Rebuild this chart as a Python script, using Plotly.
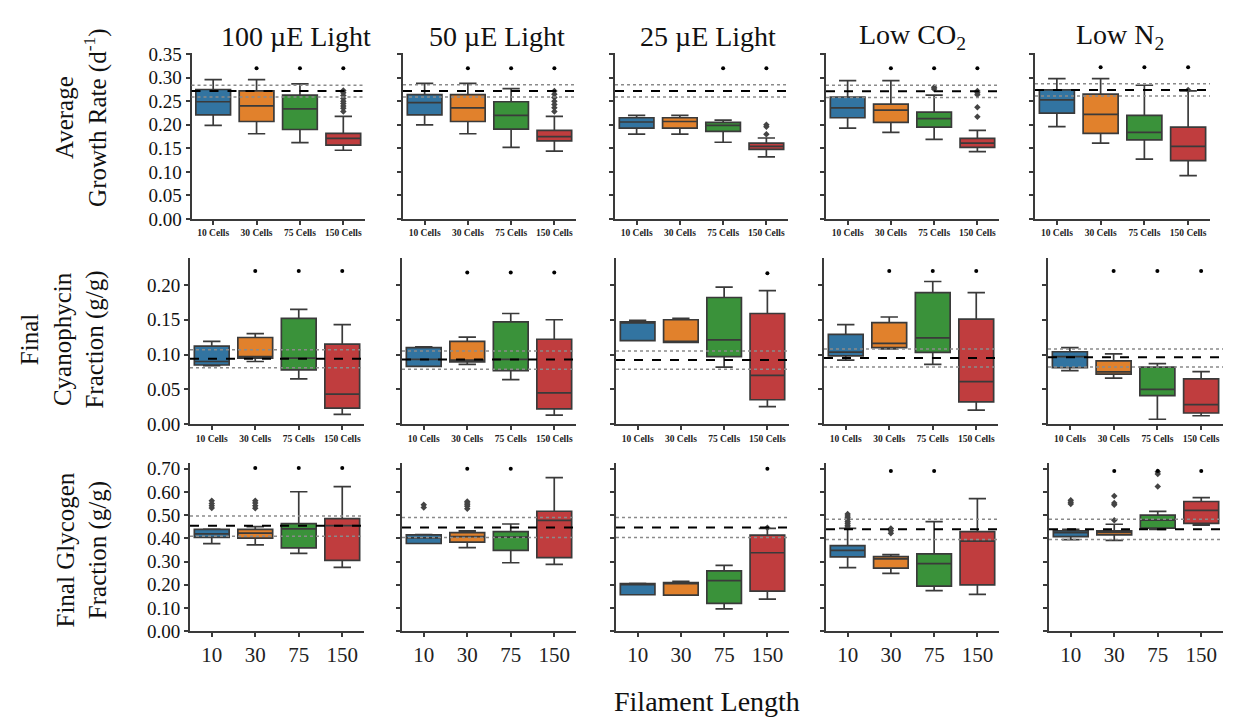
import plotly.graph_objects as go

# ---------------- data ----------------
conditions = ["100 µE Light", "50 µE Light", "25 µE Light", "Low CO<sub>2</sub>", "Low N<sub>2</sub>"]
lengths = ["10", "30", "75", "150"]
cell_labels = ["10 Cells", "30 Cells", "75 Cells", "150 Cells"]
row_titles = ["Average<br>Growth Rate (d<sup>-1</sup>)",
              "Final<br>Cyanophycin<br>Fraction (g/g)",
              "Final Glycogen<br>Fraction (g/g)"]

# Row 1: average growth rate (per condition, per filament length)
growth_low = [[0.199, 0.181, 0.162, 0.146], [0.200, 0.181, 0.152, 0.144], [0.180, 0.180, 0.163, 0.132],
              [0.193, 0.184, 0.169, 0.143], [0.196, 0.161, 0.127, 0.092]]
growth_q1 = [[0.221, 0.207, 0.190, 0.157], [0.221, 0.207, 0.191, 0.166], [0.193, 0.193, 0.186, 0.148],
             [0.215, 0.205, 0.195, 0.152], [0.225, 0.182, 0.168, 0.124]]
growth_med = [[0.249, 0.240, 0.234, 0.171], [0.247, 0.236, 0.220, 0.175], [0.206, 0.207, 0.199, 0.154],
              [0.236, 0.231, 0.213, 0.161], [0.253, 0.222, 0.184, 0.154]]
growth_q3 = [[0.275, 0.272, 0.263, 0.182], [0.264, 0.264, 0.249, 0.188], [0.215, 0.215, 0.205, 0.161],
             [0.259, 0.244, 0.227, 0.171], [0.274, 0.265, 0.220, 0.195]]
growth_high = [[0.296, 0.296, 0.287, 0.218], [0.288, 0.288, 0.277, 0.218], [0.220, 0.220, 0.210, 0.172],
               [0.294, 0.294, 0.263, 0.188], [0.298, 0.298, 0.284, 0.272]]
growth_out = [[[], [], [], [0.273, 0.268, 0.262, 0.256, 0.250, 0.245, 0.240, 0.235, 0.228]],
              [[], [], [], [0.272, 0.265, 0.258, 0.250, 0.243, 0.236, 0.228]],
              [[], [], [], [0.200, 0.196, 0.180]],
              [[], [], [0.280, 0.276], [0.272, 0.268, 0.264, 0.2375, 0.217]],
              [[], [], [], [0.274]]]
growth_sig = [[None, 0.320, 0.320, 0.320], [None, 0.320, 0.320, 0.320], [None, None, 0.320, 0.320],
              [None, 0.320, 0.320, 0.320], [None, 0.322, 0.322, 0.322]]
growth_ref = [0.272, 0.272, 0.272, 0.271, 0.274]
growth_ref_hi = [0.284, 0.285, 0.285, 0.284, 0.287]
growth_ref_lo = [0.259, 0.259, 0.259, 0.258, 0.261]

# Row 2: final cyanophycin fraction
cyano_low = [[0.084, 0.090, 0.065, 0.014], [0.083, 0.086, 0.064, 0.013], [0.120, 0.1175, 0.082, 0.025],
             [0.092, 0.108, 0.086, 0.020], [0.077, 0.066, 0.007, 0.012]]
cyano_q1 = [[0.085, 0.095, 0.078, 0.023], [0.083, 0.0895, 0.077, 0.022], [0.120, 0.1175, 0.097, 0.035],
            [0.098, 0.110, 0.103, 0.032], [0.081, 0.072, 0.041, 0.016]]
cyano_med = [[0.090, 0.097, 0.095, 0.043], [0.093, 0.092, 0.093, 0.045], [0.147, 0.118, 0.121, 0.070],
             [0.1035, 0.116, 0.124, 0.061], [0.097, 0.075, 0.050, 0.028]]
cyano_q3 = [[0.112, 0.1245, 0.152, 0.115], [0.110, 0.119, 0.147, 0.122], [0.147, 0.150, 0.182, 0.159],
            [0.129, 0.146, 0.189, 0.151], [0.104, 0.091, 0.082, 0.065]]
cyano_high = [[0.119, 0.130, 0.165, 0.143], [0.111, 0.125, 0.159, 0.150], [0.149, 0.152, 0.197, 0.192],
              [0.143, 0.154, 0.205, 0.189], [0.110, 0.101, 0.087, 0.0755]]
cyano_out = [[[], [], [], []] for _ in range(5)]
cyano_sig = [[None, 0.220, 0.220, 0.220], [None, 0.218, 0.218, 0.218], [None, None, None, 0.217],
             [None, 0.220, 0.220, 0.220], [None, 0.220, 0.220, 0.220]]
cyano_ref = [0.094, 0.093, 0.092, 0.095, 0.096]
cyano_ref_hi = [0.107, 0.105, 0.105, 0.108, 0.108]
cyano_ref_lo = [0.081, 0.079, 0.079, 0.082, 0.082]

# Row 3: final glycogen fraction
glyco_low = [[0.377, 0.372, 0.335, 0.275], [0.378, 0.360, 0.295, 0.288], [0.157, 0.155, 0.096, 0.138],
             [0.274, 0.249, 0.175, 0.159], [0.395, 0.391, 0.439, 0.457]]
glyco_q1 = [[0.404, 0.401, 0.359, 0.305], [0.378, 0.384, 0.348, 0.317], [0.157, 0.155, 0.120, 0.173],
            [0.320, 0.272, 0.194, 0.200], [0.408, 0.415, 0.444, 0.465]]
glyco_med = [[0.419, 0.423, 0.441, 0.455], [0.402, 0.408, 0.405, 0.478], [0.203, 0.207, 0.218, 0.338],
             [0.348, 0.3115, 0.291, 0.388], [0.425, 0.426, 0.479, 0.521]]
glyco_q3 = [[0.439, 0.439, 0.464, 0.485], [0.415, 0.425, 0.429, 0.517], [0.205, 0.2095, 0.260, 0.414],
            [0.369, 0.321, 0.333, 0.429], [0.433, 0.432, 0.500, 0.559]]
glyco_high = [[0.440, 0.451, 0.601, 0.623], [0.416, 0.432, 0.462, 0.662], [0.206, 0.215, 0.284, 0.443],
              [0.443, 0.330, 0.472, 0.571], [0.439, 0.461, 0.516, 0.576]]
glyco_out = [[[0.562, 0.550, 0.541, 0.531], [0.562, 0.553, 0.541, 0.530], [], []],
             [[0.545, 0.533], [0.559, 0.552, 0.545, 0.538, 0.528], [], []],
             [[], [], [], [0.446]],
             [[0.505, 0.497, 0.489, 0.481, 0.473, 0.465, 0.457, 0.449], [0.443, 0.433, 0.422], [], []],
             [[0.564, 0.556, 0.548], [0.583, 0.552, 0.545, 0.478], [0.687, 0.678, 0.624], []]]
glyco_sig = [[None, 0.703, 0.703, 0.703], [None, 0.700, 0.700, None], [None, None, None, 0.700],
             [None, 0.690, 0.690, None], [None, 0.690, 0.690, 0.690]]
glyco_ref = [0.454, 0.447, 0.447, 0.439, 0.439]
glyco_ref_hi = [0.497, 0.490, 0.490, 0.482, 0.482]
glyco_ref_lo = [0.409, 0.404, 0.404, 0.395, 0.395]

growth_ticks = [0.00, 0.05, 0.10, 0.15, 0.20, 0.25, 0.30, 0.35]
cyano_ticks = [0.00, 0.05, 0.10, 0.15, 0.20]
glyco_ticks = [0.00, 0.10, 0.20, 0.30, 0.40, 0.50, 0.60, 0.70]

# ---------------- layout/style ----------------
W, H = 1233, 718
FONT = "Liberation Serif"
box_colors = ["#3274a1", "#e1812c", "#3a923a", "#c03d3e"]
edge = "#3a3a3a"

rows = [
    dict(low=growth_low, q1=growth_q1, med=growth_med, q3=growth_q3, high=growth_high, out=growth_out,
         sig=growth_sig, ref=growth_ref, hi=growth_ref_hi, lo=growth_ref_lo, ticks=growth_ticks, top=0.352,
         xt=["<b>%s</b>" % s for s in cell_labels], xfs=9.5),
    dict(low=cyano_low, q1=cyano_q1, med=cyano_med, q3=cyano_q3, high=cyano_high, out=cyano_out,
         sig=cyano_sig, ref=cyano_ref, hi=cyano_ref_hi, lo=cyano_ref_lo, ticks=cyano_ticks, top=0.239,
         xt=["<b>%s</b>" % s for s in cell_labels], xfs=9.5),
    dict(low=glyco_low, q1=glyco_q1, med=glyco_med, q3=glyco_q3, high=glyco_high, out=glyco_out,
         sig=glyco_sig, ref=glyco_ref, hi=glyco_ref_hi, lo=glyco_ref_lo, ticks=glyco_ticks, top=0.725,
         xt=lengths, xfs=21),
]

col_px = [
    [(191.5, 365), (403, 576), (615, 788), (826, 999), (1035, 1210)],
    [(190, 364), (402, 576), (616, 789), (824, 998), (1048, 1223)],
    [(190, 364), (402, 576), (616, 789), (826, 999), (1049, 1223)],
]
row_px = [(45.5, 216), (256, 427), (467, 640)]

fig = go.Figure()
layout = {}
shapes = []
cats = [0, 1, 2, 3]

for r, R in enumerate(rows):
    for c in range(5):
        n = r * 5 + c + 1
        xa = "x" if n == 1 else "x%d" % n
        ya = "y" if n == 1 else "y%d" % n
        xkey = "xaxis" if n == 1 else "xaxis%d" % n
        ykey = "yaxis" if n == 1 else "yaxis%d" % n
        for k in cats:
            fig.add_trace(go.Box(
                x=[k], q1=[R["q1"][c][k]], median=[R["med"][c][k]], q3=[R["q3"][c][k]],
                lowerfence=[R["low"][c][k]], upperfence=[R["high"][c][k]],
                xaxis=xa, yaxis=ya, fillcolor=box_colors[k],
                line=dict(color=edge, width=1.7), width=0.8, whiskerwidth=0.5,
                boxpoints=False, showlegend=False, hoverinfo="skip"))
            outs = R["out"][c][k]
            if outs:
                fig.add_trace(go.Scatter(
                    x=[k] * len(outs), y=outs, mode="markers", xaxis=xa, yaxis=ya,
                    marker=dict(symbol="diamond", size=5, color="#444444"),
                    showlegend=False, hoverinfo="skip"))
        sx = [k for k in cats if R["sig"][c][k] is not None]
        sy = [R["sig"][c][k] for k in sx]
        if sx:
            fig.add_trace(go.Scatter(x=sx, y=sy, mode="markers", xaxis=xa, yaxis=ya,
                                     marker=dict(symbol="circle", size=4, color="black"),
                                     showlegend=False, hoverinfo="skip"))
        dref = xa + " domain"
        shapes.append(dict(type="line", xref=dref, yref=ya, x0=0, x1=1, y0=R["ref"][c], y1=R["ref"][c],
                           line=dict(color="black", width=2, dash="dash")))
        for v in (R["hi"][c], R["lo"][c]):
            shapes.append(dict(type="line", xref=dref, yref=ya, x0=0, x1=1, y0=v, y1=v,
                               line=dict(color="#8a8a8a", width=1.5, dash="dot")))

        x0, x1 = col_px[r][c]
        yt, yb = row_px[r]
        layout[xkey] = dict(domain=[x0 / W, x1 / W], range=[-0.5, 3.5], anchor=ya,
                            tickvals=cats, ticktext=R["xt"], showgrid=False, zeroline=False,
                            showline=True, linecolor=edge, linewidth=2, ticks="outside",
                            ticklen=4, tickwidth=1.5, tickcolor=edge,
                            tickfont=dict(family=FONT, size=R["xfs"], color="#222"))
        layout[ykey] = dict(domain=[1 - yb / H, 1 - yt / H], range=[0, R["top"]], anchor=xa,
                            tickvals=R["ticks"], ticktext=["%.2f" % t for t in R["ticks"]],
                            showticklabels=(c == 0), showgrid=False, zeroline=False,
                            showline=True, linecolor=edge, linewidth=2, ticks="outside",
                            ticklen=4, tickwidth=1.5, tickcolor=edge,
                            tickfont=dict(family=FONT, size=19, color="#111"))

annotations = []
title_x = [296, 497, 708, 912, 1120]
for c, t in enumerate(conditions):
    annotations.append(dict(text=t, x=title_x[c] / W, y=1 - 28 / H, xref="paper", yref="paper",
                            showarrow=False, xanchor="center", yanchor="middle",
                            font=dict(family=FONT, size=28, color="#111")))
row_lab_pos = [(82, 112), (63, 340), (82, 557)]
for r, t in enumerate(row_titles):
    px, py = row_lab_pos[r]
    annotations.append(dict(text=t, x=px / W, y=1 - py / H, xref="paper", yref="paper",
                            showarrow=False, textangle=-90, xanchor="center", yanchor="middle",
                            font=dict(family=FONT, size=25, color="#111")))
annotations.append(dict(text="Filament Length", x=707 / W, y=1 - 712 / H, xref="paper", yref="paper",
                        showarrow=False, xanchor="center", yanchor="middle",
                        font=dict(family=FONT, size=28, color="#111")))

fig.update_layout(width=W, height=H, margin=dict(l=0, r=0, t=0, b=0), autosize=False,
                  paper_bgcolor="white", plot_bgcolor="white", showlegend=False,
                  shapes=shapes, annotations=annotations, **layout)

fig.write_html("out.html")
